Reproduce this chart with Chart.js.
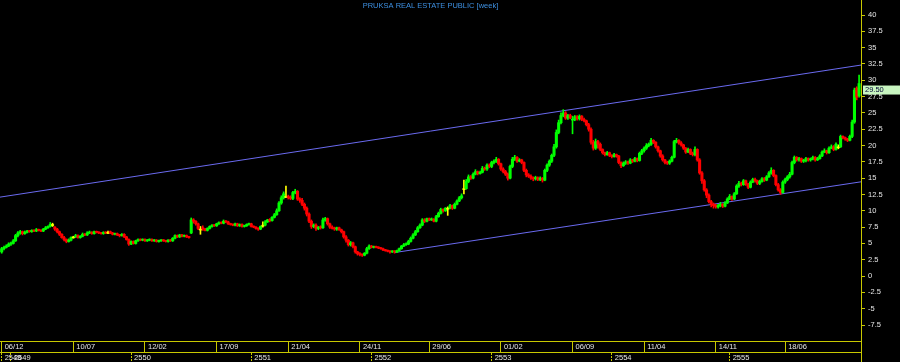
<!DOCTYPE html>
<html>
<head>
<meta charset="utf-8">
<script src="https://cdn.jsdelivr.net/npm/chart.js@4/dist/chart.umd.min.js"></script>
<style>
  html, body { margin: 0; padding: 0; background: #000; }
  canvas { display: block; }
</style>
</head>
<body>
<canvas id="priceChart" width="900" height="362"></canvas>
<script>
const chartTitle = 'PRUKSA REAL ESTATE PUBLIC [week]';

// bottom rows: week index where each label starts
const dateTicks = [0, 31, 62, 93, 124, 155, 185, 216, 247, 278, 309, 339];
const dateLabels = ['06/12', '10/07', '12/02', '17/09', '21/04', '24/11', '29/06', '01/02', '06/09', '11/04', '14/11', '18/06'];
const yearTicks = [0, 4, 56, 108, 160, 212, 264, 315];
const yearLabels = ['2548', '2549', '2550', '2551', '2552', '2553', '2554', '2555'];

const yTicks = [-7.5, -5, -2.5, 0, 2.5, 5, 7.5, 10, 12.5, 15, 17.5, 20, 22.5, 25, 27.5, 30, 32.5, 35, 37.5, 40];

// weekly prices, one value per week
const open = [
  3.7,4.2,4.4,4.6,4.9,5.0,5.4,6.2,6.6,6.8, 6.5,6.7,6.9,6.8,7.0,6.9,7.1,7.0,6.9,7.2,
  7.4,7.6,7.9,7.5,7.2,6.8,6.4,5.9,5.6,5.3, 5.5,6.0,6.0,6.2,5.9,6.1,6.4,6.3,6.6,6.7,
  6.5,6.8,6.7,6.6,6.5,6.7,6.7,6.8,6.6,6.4, 6.5,6.3,6.2,6.4,6.0,5.6,4.9,5.3,5.0,5.4,
  5.6,5.5,5.6,5.4,5.5,5.6,5.4,5.5,5.3,5.4, 5.5,5.4,5.3,5.5,5.4,5.8,6.2,6.0,6.3,6.1,
  6.2,6.0,6.6,8.6,8.4,8.0,7.2,7.4,7.2,7.0, 7.3,7.6,7.8,7.7,8.0,8.2,8.1,8.4,8.3,8.0,
  7.9,7.8,8.0,7.7,7.9,7.6,7.7,7.9,8.0,7.6, 7.5,7.3,7.2,7.8,7.8,8.3,8.6,8.5,9.0,9.4,
  10.0,11.2,12.0,12.2,12.2,12.0,11.9,12.8,13.0,11.8, 11.6,11.0,10.4,9.5,8.4,7.6,7.8,7.3,7.5,7.4,
  8.6,8.8,8.0,7.5,7.3,7.2,7.4,7.1,6.8,6.0, 5.5,4.8,5.1,4.5,3.7,3.4,3.3,3.2,3.5,4.2,
  4.6,4.4,4.5,4.4,4.3,4.2,4.0,3.9,3.8,3.7, 3.8,3.7,3.9,4.2,4.6,4.8,4.9,5.3,5.8,6.3,
  6.8,7.4,7.8,8.6,8.4,8.8,8.6,8.7,8.4,9.1, 9.6,10.2,10.0,10.4,10.4,10.8,10.4,11.0,11.5,12.0,
  13.4,13.4,14.5,15.2,15.0,15.6,16.0,15.7,15.9,16.5, 16.4,17.0,16.8,17.4,17.6,17.9,17.2,16.4,16.0,15.6,
  15.0,16.8,17.9,18.2,17.6,17.8,17.4,16.2,15.5,15.3, 15.0,14.9,15.1,14.8,15.0,14.7,16.2,17.0,17.6,18.5,
  19.8,22.0,23.5,24.6,25.0,24.2,24.6,23.9,24.0,24.4, 24.1,24.5,24.0,23.8,23.2,22.5,20.5,19.6,20.6,20.2,
  19.4,18.9,18.6,18.9,18.5,18.3,18.6,18.4,17.4,16.9, 17.3,17.5,17.3,17.8,17.6,18.0,17.7,18.8,19.2,19.6,
  20.0,20.2,20.8,20.5,19.8,19.2,18.4,17.8,17.4,17.3, 17.6,18.2,20.6,20.8,20.4,20.1,19.6,19.0,19.4,18.8,
  18.6,19.4,17.8,15.8,14.6,13.2,12.4,11.4,11.0,10.8, 10.6,10.8,11.0,10.7,11.2,11.8,12.2,11.8,12.6,13.8,
  14.2,14.0,14.6,14.1,13.6,14.4,14.8,14.6,14.2,14.5, 14.9,14.7,15.2,15.8,16.2,15.4,14.0,13.2,12.8,14.4,
  14.8,15.2,15.6,17.4,18.2,17.8,18.0,17.6,17.7,18.0, 17.8,17.9,18.2,17.8,18.0,18.4,19.0,19.2,18.9,19.6,
  19.8,19.4,19.8,19.8,21.4,21.2,21.0,20.8,21.4,23.6, 28.8,27.6
];
const high = [
  4.4,4.6,4.8,5.1,5.2,5.6,6.4,6.8,7.0,6.9, 6.9,7.0,7.0,7.1,7.1,7.3,7.2,7.1,7.3,7.6,
  7.7,8.2,8.1,7.6,7.3,6.9,6.5,6.1,5.7,5.7, 6.0,6.1,6.4,6.3,6.2,6.6,6.5,6.8,6.9,6.8,
  6.9,6.9,6.8,6.7,6.8,6.8,6.9,6.9,6.7,6.6, 6.6,6.4,6.5,6.5,6.1,5.7,5.4,5.4,5.5,5.7,
  5.7,5.7,5.7,5.6,5.7,5.7,5.6,5.6,5.5,5.6, 5.6,5.5,5.6,5.6,5.9,6.3,6.3,6.4,6.4,6.3,
  6.3,6.1,8.9,8.8,8.5,8.1,7.6,7.7,7.3,7.4, 7.7,7.9,7.9,8.1,8.3,8.3,8.6,8.5,8.4,8.1,
  8.0,8.1,8.1,8.0,8.0,7.8,8.0,8.1,8.1,7.7, 7.6,7.4,7.7,8.3,8.5,8.7,8.8,9.1,9.6,10.3,
  11.4,12.3,12.9,13.8,12.4,12.3,13.0,13.3,13.1,12.0, 11.9,11.2,10.6,9.7,8.6,8.0,8.0,7.6,7.7,8.9,
  9.0,8.9,8.1,7.7,7.5,7.5,7.5,7.2,6.9,6.2, 5.6,5.3,5.2,4.6,3.8,3.6,3.4,3.6,4.4,4.8,
  4.7,4.6,4.6,4.5,4.4,4.3,4.1,4.0,3.9,3.9, 3.9,4.0,4.3,4.7,5.0,5.1,5.5,6.0,6.5,7.0,
  7.6,8.0,8.8,8.8,8.9,8.9,8.9,8.8,9.3,9.8, 10.4,10.3,10.5,10.6,11.0,10.9,11.2,11.7,12.2,12.6,
  14.7,14.8,15.5,15.4,15.8,16.3,16.1,16.1,16.8,16.7, 17.2,17.2,17.6,17.8,18.2,18.0,17.3,16.6,16.2,15.8,
  17.0,18.2,18.5,18.3,18.0,17.9,17.5,16.4,15.7,15.5, 15.2,15.3,15.2,15.2,15.1,16.4,17.2,17.8,18.7,20.2,
  22.4,23.9,25.0,25.5,25.2,24.8,24.8,24.5,24.6,24.6, 24.7,24.6,24.2,23.9,23.4,22.7,20.8,21.0,20.8,20.4,
  19.5,19.0,19.1,19.0,18.6,18.8,18.7,18.5,17.5,17.5, 17.7,17.6,18.0,17.9,18.2,18.1,19.0,19.4,19.8,20.3,
  20.4,21.1,20.9,20.6,19.9,19.3,18.6,17.9,17.6,17.8, 18.4,20.8,21.1,20.9,20.6,20.2,19.7,19.6,19.5,19.0,
  19.8,19.5,18.0,16.0,14.8,13.4,12.6,11.6,11.2,11.0, 11.0,11.3,11.1,11.4,12.0,12.5,12.3,12.8,14.0,14.5,
  14.4,14.8,14.7,14.2,14.6,15.0,15.0,14.7,14.7,15.1, 15.1,15.4,16.0,16.6,16.3,15.5,14.2,13.4,14.6,15.0,
  15.4,15.9,17.6,18.4,18.3,18.2,18.1,17.9,18.2,18.1, 18.1,18.4,18.3,18.2,18.6,19.2,19.5,19.3,19.8,20.1,
  20.0,20.4,20.1,21.6,21.5,21.3,21.1,21.6,23.9,28.8, 29.0,30.8
];
const low = [
  3.5,4.0,4.3,4.5,4.7,4.9,5.3,6.0,6.4,6.3, 6.4,6.6,6.7,6.7,6.8,6.8,6.9,6.8,6.8,7.1,
  7.3,7.5,7.6,7.0,6.6,6.2,5.8,5.4,5.1,5.2, 5.4,5.8,5.9,5.8,5.8,6.0,6.2,6.2,6.5,6.4,
  6.4,6.6,6.5,6.4,6.4,6.5,6.5,6.5,6.3,6.3, 6.2,6.0,6.1,5.9,5.5,4.7,4.8,4.9,4.9,5.3,
  5.4,5.4,5.3,5.3,5.4,5.3,5.3,5.2,5.2,5.3, 5.3,5.2,5.2,5.3,5.3,5.7,5.9,5.9,6.0,6.0,
  5.9,5.8,6.5,8.1,7.8,7.1,6.4,7.0,6.9,6.9, 7.2,7.5,7.6,7.6,7.9,8.0,8.0,8.2,7.9,7.8,
  7.7,7.7,7.6,7.6,7.5,7.5,7.6,7.8,7.5,7.4, 7.2,7.0,7.1,7.5,7.7,8.2,8.3,8.4,8.9,9.3,
  9.9,11.0,11.8,12.0,11.8,11.7,11.7,12.6,11.6,11.3, 10.8,10.1,9.2,8.2,7.3,7.4,7.0,7.1,7.2,7.3,
  8.4,7.8,7.3,7.2,7.0,7.0,7.0,6.6,5.8,5.2, 4.6,4.6,4.3,3.5,3.2,3.1,3.0,3.1,3.4,4.1,
  4.3,4.3,4.3,4.2,4.1,3.9,3.8,3.7,3.5,3.6, 3.5,3.6,3.8,4.1,4.5,4.7,4.8,5.2,5.7,6.2,
  6.7,7.3,7.7,8.2,8.3,8.5,8.5,8.3,8.3,9.0, 9.5,9.8,9.9,9.3,10.3,10.2,10.3,10.9,11.4,11.8,
  12.6,13.3,14.3,14.8,14.9,15.5,15.5,15.6,15.8,16.2, 16.2,16.6,16.6,17.2,17.4,17.0,16.2,15.8,15.4,14.7,
  14.9,16.6,17.7,17.4,17.5,17.2,16.0,15.2,15.1,14.8, 14.6,14.7,14.6,14.6,14.4,14.6,16.0,16.8,17.4,18.3,
  19.6,21.8,23.3,24.4,24.0,24.0,24.1,21.8,23.8,23.9, 23.9,23.8,23.6,23.0,22.2,20.2,19.3,19.4,19.6,19.2,
  18.7,18.4,18.5,18.3,18.1,18.2,18.2,17.2,16.6,16.8, 17.1,17.1,17.2,17.4,17.5,17.5,17.6,18.6,19.0,19.4,
  19.8,20.0,20.3,19.6,19.0,18.2,17.6,17.2,17.1,17.1, 17.5,18.1,20.4,20.2,19.9,19.4,18.8,18.9,18.6,18.4,
  18.4,17.6,15.6,14.2,13.0,12.0,11.2,10.6,10.4,10.4, 10.4,10.6,10.5,10.6,11.1,11.7,11.6,11.7,12.5,13.6,
  13.8,13.9,13.9,13.4,13.5,14.3,14.4,14.0,14.0,14.4, 14.5,14.6,15.1,15.6,15.2,13.8,13.0,12.5,12.7,14.2,
  14.6,15.0,15.5,17.2,17.6,17.6,17.4,17.4,17.5,17.6, 17.6,17.8,17.6,17.7,17.9,18.3,18.9,18.7,18.8,19.5,
  19.2,19.3,19.5,19.7,21.0,20.8,20.6,20.7,21.2,23.4, 27.0,27.4
];
const close = [
  4.2,4.4,4.6,4.9,5.0,5.4,6.2,6.6,6.8,6.5, 6.7,6.9,6.8,7.0,6.9,7.1,7.0,6.9,7.2,7.4,
  7.6,7.9,7.9,7.2,6.8,6.4,5.9,5.6,5.3,5.5, 5.9,6.0,6.2,5.9,6.1,6.4,6.3,6.6,6.7,6.5,
  6.8,6.7,6.6,6.5,6.7,6.6,6.7,6.6,6.4,6.5, 6.3,6.2,6.4,6.0,5.6,4.9,5.3,5.0,5.4,5.6,
  5.5,5.6,5.4,5.5,5.6,5.4,5.5,5.3,5.4,5.5, 5.4,5.3,5.5,5.4,5.8,6.2,6.0,6.3,6.1,6.2,
  6.0,5.9,8.6,8.4,8.0,7.3,7.2,7.2,7.0,7.3, 7.6,7.8,7.7,8.0,8.2,8.1,8.4,8.3,8.0,7.9,
  7.8,8.0,7.7,7.9,7.6,7.7,7.9,8.0,7.6,7.5, 7.3,7.2,7.6,7.8,8.3,8.6,8.5,9.0,9.4,10.0,
  11.2,12.0,12.6,12.2,12.0,11.9,12.8,13.0,11.8,11.6, 11.0,10.4,9.5,8.4,7.6,7.8,7.3,7.5,7.4,8.6,
  8.8,8.0,7.5,7.3,7.2,7.4,7.1,6.8,6.0,5.5, 4.8,5.1,4.5,3.7,3.4,3.3,3.2,3.5,4.2,4.6,
  4.4,4.5,4.4,4.3,4.2,4.0,3.9,3.8,3.7,3.8, 3.7,3.9,4.2,4.6,4.8,4.9,5.3,5.8,6.3,6.8,
  7.4,7.8,8.6,8.4,8.8,8.6,8.7,8.4,9.1,9.6, 10.2,10.0,10.4,10.4,10.8,10.4,11.0,11.5,12.0,12.3,
  13.4,14.5,15.2,15.0,15.6,16.0,15.7,15.9,16.5,16.4, 17.0,16.8,17.4,17.6,17.9,17.2,16.4,16.0,15.6,15.0,
  16.8,17.9,18.2,17.6,17.8,17.4,16.2,15.5,15.3,15.0, 14.9,15.1,14.8,15.0,14.7,16.2,17.0,17.6,18.5,19.8,
  22.0,23.5,24.6,25.0,24.2,24.6,24.3,24.0,24.4,24.1, 24.5,24.0,23.8,23.2,22.5,20.5,19.6,20.6,20.2,19.4,
  18.9,18.6,18.9,18.5,18.3,18.6,18.4,17.4,16.9,17.3, 17.5,17.3,17.8,17.6,18.0,17.7,18.8,19.2,19.6,20.0,
  20.2,20.8,20.5,19.8,19.2,18.4,17.8,17.4,17.3,17.6, 18.2,20.6,20.8,20.4,20.1,19.6,19.0,19.4,18.8,18.6,
  19.4,17.8,15.8,14.6,13.2,12.4,11.4,11.0,10.8,10.6, 10.8,11.0,10.7,11.2,11.8,12.2,11.8,12.6,13.8,14.2,
  14.0,14.6,14.1,13.6,14.4,14.8,14.6,14.2,14.5,14.9, 14.7,15.2,15.8,16.2,15.4,14.0,13.2,12.8,14.4,14.8,
  15.2,15.6,17.4,18.2,17.8,18.0,17.6,17.7,18.0,17.8, 17.9,18.2,17.8,18.0,18.4,19.0,19.2,18.9,19.6,19.8,
  19.4,20.2,19.8,21.4,21.2,21.0,20.8,21.4,23.6,28.5, 27.4,29.5
];

// trend channel end points [week index, price]
const upperLine = [[-1, 12.08], [372, 32.34]];
const lowerLine = [[170, 3.6], [372, 14.45]];

const yellow = '#c8c800';
const labelColor = '#e6e6e6';
const axisFont = { family: 'Liberation Sans', size: 7.5 };

const candleColors = close.map((c, i) => c > open[i] ? '#00ff00' : (c < open[i] ? '#ff0000' : '#ffff00'));

// extra bits amibroker draws: axis line through the footer, last price tag
const extras = {
  id: 'extras',
  afterDraw(chart) {
    const { ctx, chartArea } = chart;
    const y = chart.scales.y;
    ctx.save();
    ctx.strokeStyle = yellow;
    ctx.lineWidth = 1;
    ctx.beginPath();
    ctx.moveTo(Math.round(y.left) + 0.5, chartArea.bottom);
    ctx.lineTo(Math.round(y.left) + 0.5, chart.height);
    ctx.stroke();

    const last = close[close.length - 1];
    const py = y.getPixelForValue(last);
    ctx.fillStyle = '#c8f5c0';
    ctx.fillRect(y.left + 2, py + 2, chart.width - y.left - 2, 9);
    ctx.fillStyle = '#000033';
    ctx.font = '7.5px "Liberation Sans"';
    ctx.textBaseline = 'middle';
    ctx.fillText(last.toFixed(2), y.left + 4, py + 6.5);
    ctx.restore();
  }
};

new Chart(document.getElementById('priceChart'), {
  type: 'bar',
  data: {
    datasets: [
      {
        label: 'channel top',
        type: 'line',
        data: upperLine.map(p => ({ x: p[0], y: p[1] })),
        borderColor: '#6a6af0',
        borderWidth: 1,
        pointRadius: 0,
        order: 3
      },
      {
        label: 'channel bottom',
        type: 'line',
        data: lowerLine.map(p => ({ x: p[0], y: p[1] })),
        borderColor: '#6a6af0',
        borderWidth: 1,
        pointRadius: 0,
        order: 3
      },
      {
        label: 'wick',
        data: close.map((c, i) => ({ x: i, y: [low[i], high[i]] })),
        backgroundColor: candleColors,
        barThickness: 1,
        grouped: false,
        order: 2
      },
      {
        label: 'body',
        data: close.map((c, i) => ({ x: i, y: [open[i], c] })),
        backgroundColor: candleColors,
        barThickness: 2.4,
        minBarLength: 1,
        grouped: false,
        order: 1
      }
    ]
  },
  options: {
    responsive: false,
    animation: false,
    devicePixelRatio: 1,
    layout: { padding: 0 },
    plugins: {
      legend: { display: false },
      tooltip: { enabled: false },
      title: {
        display: true,
        text: chartTitle,
        fullSize: false,
        color: '#3d8fe0',
        font: { family: 'Liberation Sans', size: 7.5, weight: 'normal' },
        padding: { top: 1, bottom: -10 }
      }
    },
    scales: {
      x: {
        type: 'linear',
        position: 'bottom',
        weight: 0,
        min: -0.736,
        max: 371.83,
        offset: false,
        afterBuildTicks: s => { s.ticks = dateTicks.map(v => ({ value: v })); },
        afterFit: s => { s.height = 11; s.paddingLeft = 0; s.paddingRight = 0; },
        grid: { offset: false, drawOnChartArea: false, tickLength: 11, tickColor: yellow },
        border: { display: true, color: yellow },
        ticks: {
          autoSkip: false, maxRotation: 0, align: 'start', labelOffset: 3, padding: -10,
          color: labelColor, font: axisFont,
          callback: (v, i) => dateLabels[i]
        }
      },
      x2: {
        type: 'linear',
        position: 'bottom',
        weight: 1,
        min: -0.736,
        max: 371.83,
        offset: false,
        afterBuildTicks: s => { s.ticks = yearTicks.map(v => ({ value: v })); },
        afterFit: s => { s.height = 10; s.paddingLeft = 0; s.paddingRight = 0; },
        grid: { offset: false, drawOnChartArea: false, tickLength: 10, tickColor: yellow, tickBorderDash: [2, 1] },
        border: { display: true, color: yellow, dash: [2, 1] },
        ticks: {
          autoSkip: false, maxRotation: 0, align: 'start', labelOffset: 3, padding: -9,
          color: labelColor, font: axisFont,
          callback: (v, i) => yearLabels[i]
        }
      },
      y: {
        position: 'right',
        min: -9.95,
        max: 42.3,
        afterBuildTicks: s => { s.ticks = yTicks.map(v => ({ value: v })); },
        afterFit: s => { s.width = 39; s.paddingTop = 0; s.paddingBottom = 0; },
        grid: { drawOnChartArea: false, tickLength: 4, tickColor: yellow },
        border: { display: true, color: yellow },
        ticks: { padding: 3, color: labelColor, font: axisFont, callback: v => String(v) }
      }
    }
  },
  plugins: [extras]
});
</script>
</body>
</html>
